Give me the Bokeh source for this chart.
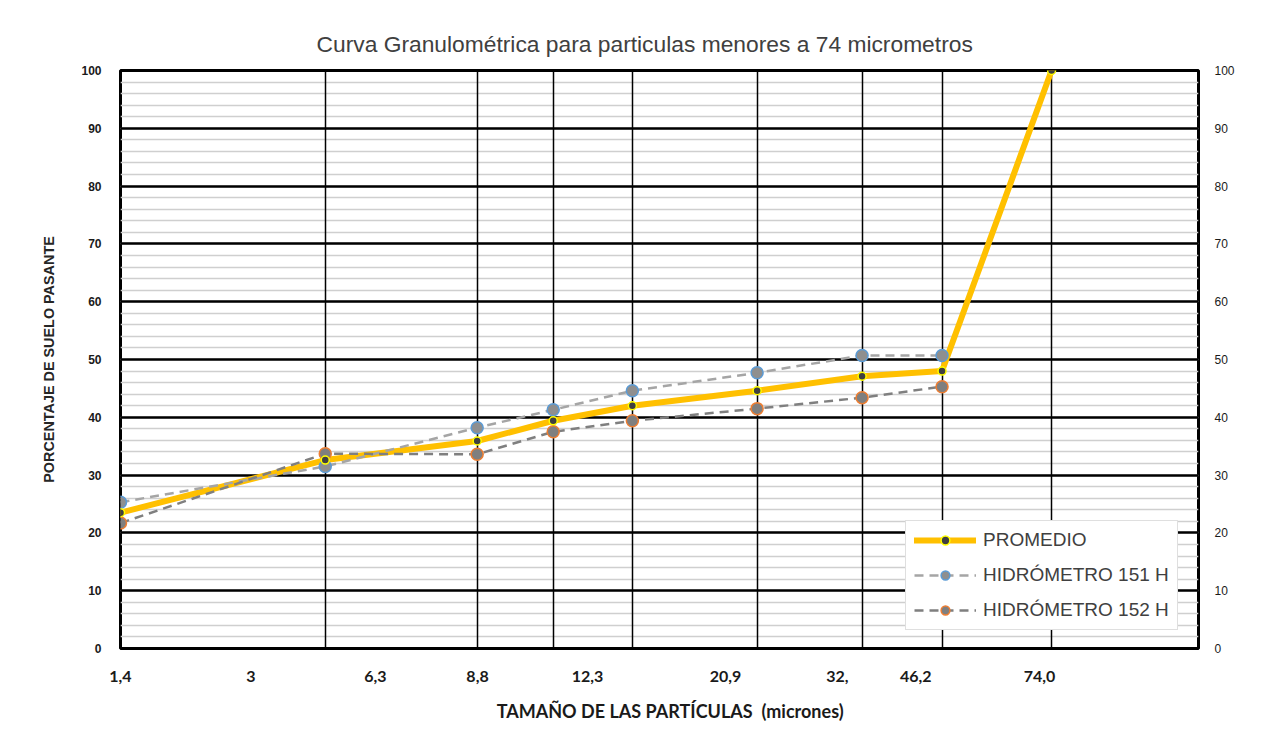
from bokeh.plotting import figure
from bokeh.models import Range1d, FixedTicker, LinearAxis, Legend, LegendItem
from bokeh.embed import file_html
from bokeh.resources import INLINE

# ---------------- data ----------------
size_um = [1.4, 3.35, 6.4, 8.85, 12.4, 21.1, 33.0, 46.4, 74.0]
promedio = [23.5, 32.6, 35.9, 39.4, 42.0, 44.6, 47.1, 48.0, 100.0]
hidro151 = [25.3, 31.5, 38.2, 41.3, 44.6, 47.7, 50.7, 50.7]
hidro152 = [21.7, 33.7, 33.6, 37.5, 39.4, 41.5, 43.4, 45.3]

x_tick_labels = ["1,4", "3", "6,3", "8,8", "12,3", "20,9", "32,", "46,2", "74,0"]
y_ticks = list(range(0, 101, 10))
y_minor = list(range(0, 101, 2))

# layout: where the (hand-placed) x labels sit, in micron units
x_label_pos = [1.4, 2.44, 4.15, 6.41, 10.24, 18.45, 29.7, 41.5, 70.3]

FONT = "Liberation Sans"
XFONT = "Lato"

p = figure(frame_width=1078, frame_height=578, x_axis_type="log",
           x_range=Range1d(1.4, 138.4), y_range=Range1d(0, 100),
           output_backend="svg", toolbar_location=None,
           min_border_left=120, min_border_right=68,
           min_border_top=70, min_border_bottom=70)

p.background_fill_color = "white"
p.border_fill_color = "white"
p.outline_line_color = "black"
p.outline_line_width = 3

# title
p.title.text = "Curva Granulométrica para particulas menores a 74 micrometros"
p.title.align = "left"
p.title.offset = 196
p.title.text_font = FONT
p.title.text_font_size = "22.8px"
p.title.text_font_style = "normal"
p.title.text_color = "#404040"
p.title.standoff = 28

# grids (horizontal grid below the vertical lines)
p.ygrid.level = "image"
p.ygrid.ticker = FixedTicker(ticks=y_ticks, minor_ticks=y_minor)
p.ygrid.grid_line_color = "black"
p.ygrid.grid_line_width = 2.5
p.ygrid.minor_grid_line_color = "#cfcfcf"
p.ygrid.minor_grid_line_width = 1.5
p.xgrid.ticker = FixedTicker(ticks=size_um)
p.xgrid.grid_line_color = "black"
p.xgrid.grid_line_width = 1.5

# x axis
xa = p.xaxis[0]
xa.ticker = FixedTicker(ticks=x_label_pos)
xa.major_label_overrides = {pos: lab for pos, lab in zip(x_label_pos, x_tick_labels)}
xa.major_tick_line_color = None
xa.minor_tick_line_color = None
xa.axis_line_color = None
xa.major_label_standoff = 16
xa.major_label_text_font = XFONT
xa.major_label_text_font_size = "16px"
xa.major_label_text_font_style = "bold"
xa.major_label_text_color = "#1a1a1a"
xa.axis_label = "\u00a0" * 5 + "TAMAÑO DE LAS PARTÍCULAS\u00a0\u00a0(micrones)"
xa.axis_label_text_font = XFONT
xa.axis_label_text_font_size = "18px"
xa.axis_label_text_font_style = "bold"
xa.axis_label_text_color = "#1a1a1a"
xa.axis_label_standoff = 15

# left y axis
ya = p.yaxis[0]
ya.ticker = FixedTicker(ticks=y_ticks)
ya.major_tick_line_color = None
ya.minor_tick_line_color = None
ya.axis_line_color = None
ya.major_label_standoff = 13
ya.major_label_text_font = FONT
ya.major_label_text_font_size = "12px"
ya.major_label_text_font_style = "bold"
ya.major_label_text_color = "#1a1a1a"
ya.axis_label = "PORCENTAJE DE SUELO PASANTE"
ya.axis_label_text_font = FONT
ya.axis_label_text_font_size = "14.4px"
ya.axis_label_text_font_style = "bold"
ya.axis_label_text_color = "#262626"
ya.axis_label_standoff = 21

# right y axis
ra = LinearAxis(ticker=FixedTicker(ticks=y_ticks))
ra.major_tick_line_color = None
ra.minor_tick_line_color = None
ra.axis_line_color = None
ra.major_label_standoff = 10
ra.major_label_text_font = FONT
ra.major_label_text_font_size = "12px"
ra.major_label_text_color = "#1a1a1a"
p.add_layout(ra, "right")

# series
n = len(hidro151)
l_prom = p.line(size_um, promedio, line_color="#FFC000", line_width=6, line_cap="round", line_join="round")
l_151 = p.line(size_um[:n], hidro151, line_color="#A5A5A5", line_width=2.5, line_dash="9 6")
l_152 = p.line(size_um[:n], hidro152, line_color="#7F7F7F", line_width=2.5, line_dash="9 6")
m_151 = p.scatter(size_um[:n], hidro151, size=12, fill_color="#8f8f8f", line_color="#5B9BD5", line_width=1.5)
m_152 = p.scatter(size_um[:n], hidro152, size=12, fill_color="#7f7f7f", line_color="#ED7D31", line_width=1.5)
m_prom = p.scatter(size_um, promedio, size=8, fill_color="#404040", line_color="#FFFF00", line_width=1.5)

legend = Legend(items=[
    LegendItem(label="PROMEDIO", renderers=[l_prom, m_prom]),
    LegendItem(label="HIDRÓMETRO 151 H", renderers=[l_151, m_151]),
    LegendItem(label="HIDRÓMETRO 152 H", renderers=[l_152, m_152]),
], location=(785, 18))
legend.label_text_font = FONT
legend.label_text_font_size = "19px"
legend.label_text_color = "#404040"
legend.glyph_width = 62
legend.glyph_height = 22
legend.label_height = 22
legend.spacing = 13
legend.padding = 8
legend.margin = 0
legend.label_standoff = 7
legend.border_line_color = "#bfbfbf"
legend.border_line_width = 1.5
legend.background_fill_color = "white"
legend.background_fill_alpha = 1
p.add_layout(legend)

open("out.html", "w").write(file_html(p, INLINE))
